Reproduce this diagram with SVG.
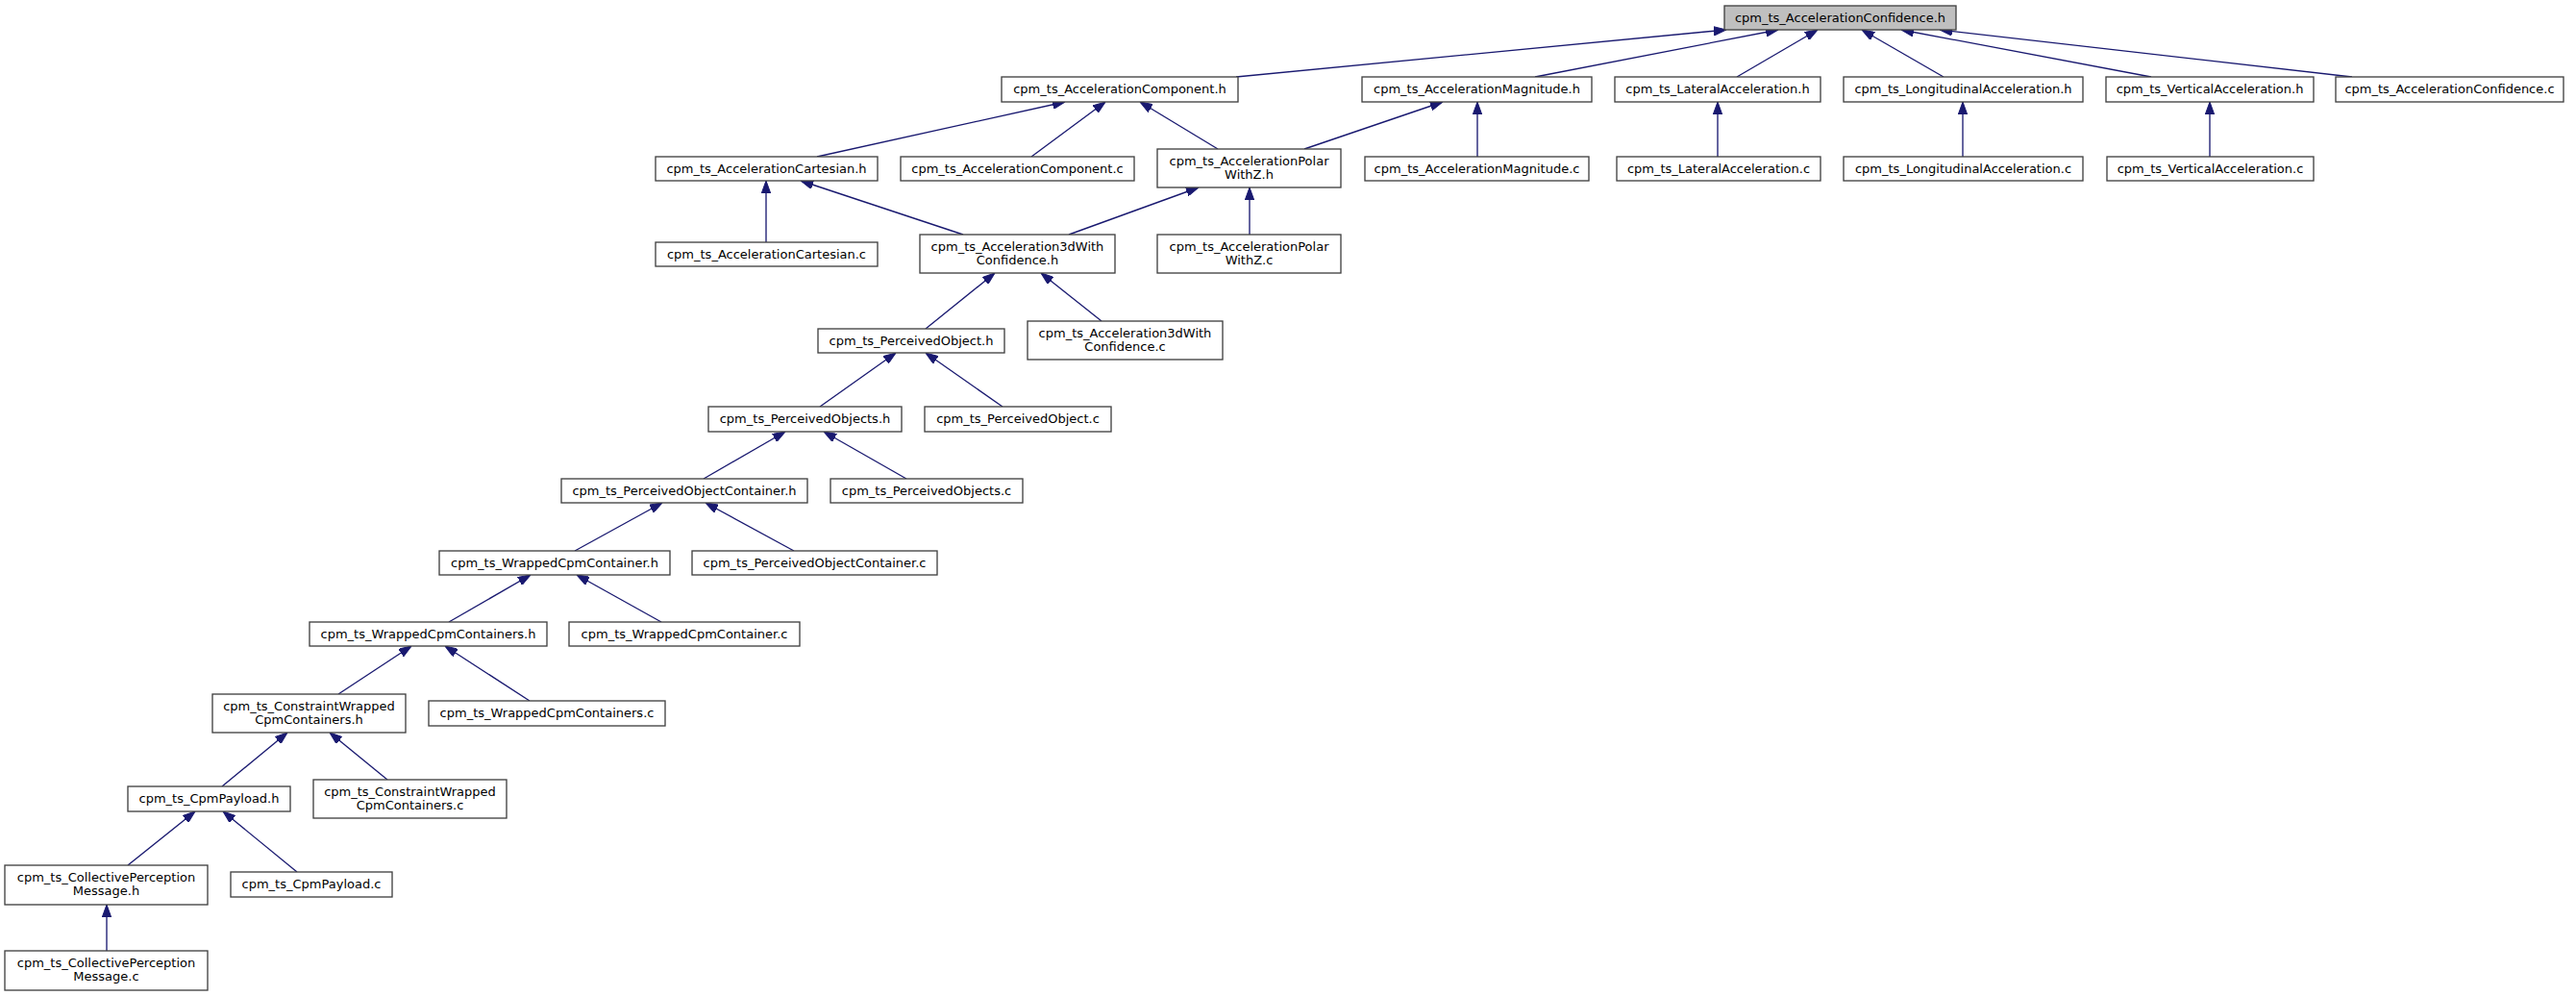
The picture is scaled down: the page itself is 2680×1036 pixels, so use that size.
<svg xmlns="http://www.w3.org/2000/svg" width="2680" height="1036" viewBox="0 0 2680 1036">
<style>
.n rect{fill:#ffffff;stroke:#404040;stroke-width:1.33}
.n.root rect{fill:#bfbfbf}
.n text{font-family:"DejaVu Sans","Liberation Sans",sans-serif;font-size:13px;fill:#000000;text-anchor:middle}
.e path{fill:none;stroke:#191970;stroke-width:1.33;marker-end:url(#ah)}
</style>
<defs>
<marker id="ah" viewBox="0 0 13 9.4" refX="13" refY="4.7" markerWidth="13" markerHeight="9.4" orient="auto" markerUnits="userSpaceOnUse">
<path d="M0,0 L13,4.7 L0,9.4 z" fill="#191970" stroke="#191970" stroke-width="1"/>
</marker>
</defs>
<rect x="0" y="0" width="2680" height="1036" fill="#ffffff"/>
<g id="edges" class="e">
<path d="M1286,80 L1796,31"/>
<path d="M1597,80 L1850,31"/>
<path d="M1807,80 L1891,31"/>
<path d="M2022,80 L1937,31"/>
<path d="M2238,80 L1978,31"/>
<path d="M2447,80 L2018,31"/>
<path d="M850,163 L1108,106"/>
<path d="M1073,163 L1150,106"/>
<path d="M1267,155 L1186,106"/>
<path d="M1357,155 L1501,106"/>
<path d="M1537,163 L1537,106"/>
<path d="M1787,163 L1787,106"/>
<path d="M2042,163 L2042,106"/>
<path d="M2299,163 L2299,106"/>
<path d="M797,252 L797,188"/>
<path d="M1002,244 L833,188"/>
<path d="M1112,244 L1247,195"/>
<path d="M1300,244 L1300,195"/>
<path d="M963,342 L1035,284"/>
<path d="M1146,334 L1083,284"/>
<path d="M853,423 L932,367"/>
<path d="M1043,423 L963,367"/>
<path d="M732,498 L817,449"/>
<path d="M943,498 L857,449"/>
<path d="M598,573 L689,523"/>
<path d="M826,573 L734,523"/>
<path d="M467,647 L552,598"/>
<path d="M688,647 L600,598"/>
<path d="M352,722 L428,672"/>
<path d="M551,729 L463,672"/>
<path d="M231,818 L299,762"/>
<path d="M403,811 L343,762"/>
<path d="M133,900 L203,844"/>
<path d="M309,907 L232,844"/>
<path d="M111,989 L111,941"/>
</g>
<g id="n0" class="n root"><rect x="1794" y="6" width="241" height="25"/><text x="1914.5" y="22.5">cpm_ts_AccelerationConfidence.h</text></g>
<g id="n1" class="n"><rect x="1042" y="80" width="246" height="26"/><text x="1165" y="97">cpm_ts_AccelerationComponent.h</text></g>
<g id="n2" class="n"><rect x="1417" y="80" width="239" height="26"/><text x="1536.5" y="97">cpm_ts_AccelerationMagnitude.h</text></g>
<g id="n3" class="n"><rect x="1680" y="80" width="214" height="26"/><text x="1787" y="97">cpm_ts_LateralAcceleration.h</text></g>
<g id="n4" class="n"><rect x="1918" y="80" width="249" height="26"/><text x="2042.5" y="97">cpm_ts_LongitudinalAcceleration.h</text></g>
<g id="n5" class="n"><rect x="2191" y="80" width="216" height="26"/><text x="2299" y="97">cpm_ts_VerticalAcceleration.h</text></g>
<g id="n6" class="n"><rect x="2430" y="80" width="237" height="26"/><text x="2548.5" y="97">cpm_ts_AccelerationConfidence.c</text></g>
<g id="n7" class="n"><rect x="682" y="163" width="231" height="25"/><text x="797.5" y="179.5">cpm_ts_AccelerationCartesian.h</text></g>
<g id="n8" class="n"><rect x="937" y="163" width="243" height="25"/><text x="1058.5" y="179.5">cpm_ts_AccelerationComponent.c</text></g>
<g id="n9" class="n"><rect x="1204" y="155" width="191" height="40"/><text x="1299.5" y="171.5">cpm_ts_AccelerationPolar</text><text x="1299.5" y="185.5">WithZ.h</text></g>
<g id="n10" class="n"><rect x="1420" y="163" width="233" height="25"/><text x="1536.5" y="179.5">cpm_ts_AccelerationMagnitude.c</text></g>
<g id="n11" class="n"><rect x="1682" y="163" width="212" height="25"/><text x="1788" y="179.5">cpm_ts_LateralAcceleration.c</text></g>
<g id="n12" class="n"><rect x="1918" y="163" width="249" height="25"/><text x="2042.5" y="179.5">cpm_ts_LongitudinalAcceleration.c</text></g>
<g id="n13" class="n"><rect x="2192" y="163" width="215" height="25"/><text x="2299.5" y="179.5">cpm_ts_VerticalAcceleration.c</text></g>
<g id="n14" class="n"><rect x="682" y="252" width="231" height="25"/><text x="797.5" y="268.5">cpm_ts_AccelerationCartesian.c</text></g>
<g id="n15" class="n"><rect x="957" y="244" width="203" height="40"/><text x="1058.5" y="260.5">cpm_ts_Acceleration3dWith</text><text x="1058.5" y="274.5">Confidence.h</text></g>
<g id="n16" class="n"><rect x="1204" y="244" width="191" height="40"/><text x="1299.5" y="260.5">cpm_ts_AccelerationPolar</text><text x="1299.5" y="274.5">WithZ.c</text></g>
<g id="n17" class="n"><rect x="851" y="342" width="194" height="25"/><text x="948" y="358.5">cpm_ts_PerceivedObject.h</text></g>
<g id="n18" class="n"><rect x="1069" y="334" width="203" height="40"/><text x="1170.5" y="350.5">cpm_ts_Acceleration3dWith</text><text x="1170.5" y="364.5">Confidence.c</text></g>
<g id="n19" class="n"><rect x="737" y="423" width="201" height="26"/><text x="837.5" y="440">cpm_ts_PerceivedObjects.h</text></g>
<g id="n20" class="n"><rect x="962" y="423" width="194" height="26"/><text x="1059" y="440">cpm_ts_PerceivedObject.c</text></g>
<g id="n21" class="n"><rect x="584" y="498" width="256" height="25"/><text x="712" y="514.5">cpm_ts_PerceivedObjectContainer.h</text></g>
<g id="n22" class="n"><rect x="864" y="498" width="200" height="25"/><text x="964" y="514.5">cpm_ts_PerceivedObjects.c</text></g>
<g id="n23" class="n"><rect x="457" y="573" width="240" height="25"/><text x="577" y="589.5">cpm_ts_WrappedCpmContainer.h</text></g>
<g id="n24" class="n"><rect x="720" y="573" width="255" height="25"/><text x="847.5" y="589.5">cpm_ts_PerceivedObjectContainer.c</text></g>
<g id="n25" class="n"><rect x="322" y="647" width="247" height="25"/><text x="445.5" y="663.5">cpm_ts_WrappedCpmContainers.h</text></g>
<g id="n26" class="n"><rect x="592" y="647" width="240" height="25"/><text x="712" y="663.5">cpm_ts_WrappedCpmContainer.c</text></g>
<g id="n27" class="n"><rect x="221" y="722" width="201" height="40"/><text x="321.5" y="738.5">cpm_ts_ConstraintWrapped</text><text x="321.5" y="752.5">CpmContainers.h</text></g>
<g id="n28" class="n"><rect x="446" y="729" width="246" height="26"/><text x="569" y="746">cpm_ts_WrappedCpmContainers.c</text></g>
<g id="n29" class="n"><rect x="133" y="818" width="169" height="26"/><text x="217.5" y="835">cpm_ts_CpmPayload.h</text></g>
<g id="n30" class="n"><rect x="326" y="811" width="201" height="40"/><text x="426.5" y="827.5">cpm_ts_ConstraintWrapped</text><text x="426.5" y="841.5">CpmContainers.c</text></g>
<g id="n31" class="n"><rect x="5" y="900" width="211" height="41"/><text x="110.5" y="917">cpm_ts_CollectivePerception</text><text x="110.5" y="931">Message.h</text></g>
<g id="n32" class="n"><rect x="240" y="907" width="168" height="26"/><text x="324" y="924">cpm_ts_CpmPayload.c</text></g>
<g id="n33" class="n"><rect x="5" y="989" width="211" height="41"/><text x="110.5" y="1006">cpm_ts_CollectivePerception</text><text x="110.5" y="1020">Message.c</text></g>
</svg>
